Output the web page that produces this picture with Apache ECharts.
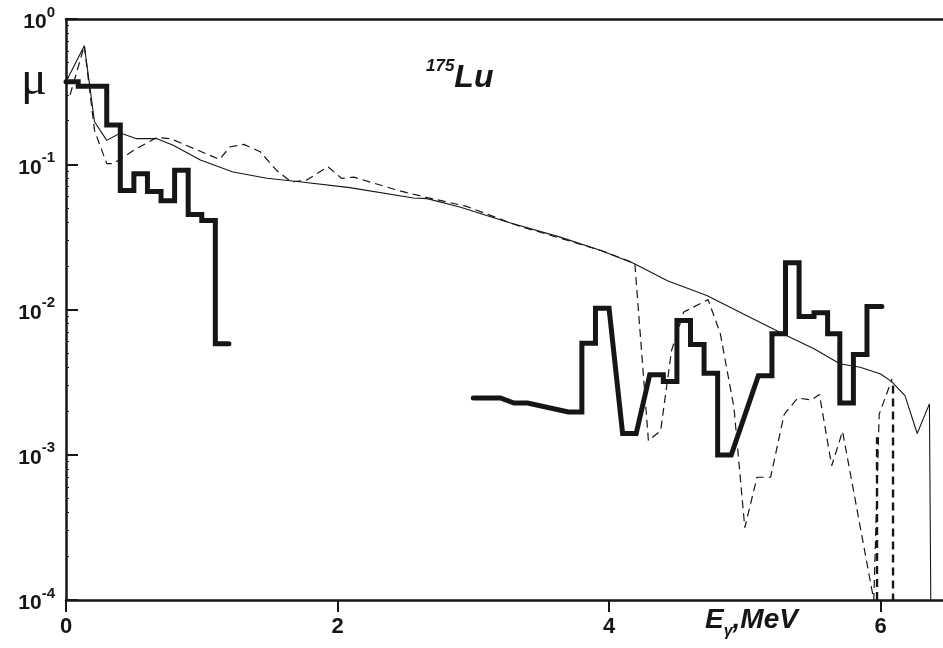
<!DOCTYPE html>
<html><head><meta charset="utf-8">
<script src="https://cdn.jsdelivr.net/npm/echarts@6/dist/echarts.min.js"></script>
<style>html,body{margin:0;padding:0;background:#fff}#c{width:943px;height:648px}</style>
</head><body><div id="c"></div>
<script>
// x tick labels and y decades
const xTickValues = [0, 2, 4, 6];
const yDecades = [1, 0.1, 0.01, 0.001, 0.0001];

// Thick histogram (experiment), low-energy part: bin edges and values
const histEdges = [0, 0.09, 0.3, 0.4, 0.5, 0.6, 0.7, 0.8, 0.9, 1.0, 1.1, 1.2];
const histValues = [0.37, 0.345, 0.186, 0.066, 0.086, 0.065, 0.056, 0.091, 0.045, 0.041, 0.0058];

// Thick line (experiment), high-energy part
const thickX = [3.0, 3.2, 3.3, 3.4, 3.7, 3.8, 3.8, 3.9, 3.9, 4.0, 4.1, 4.2, 4.3, 4.4, 4.4, 4.5, 4.5, 4.6, 4.6, 4.7, 4.7, 4.8, 4.8, 4.9, 5.1, 5.2, 5.2, 5.3, 5.3, 5.4, 5.4, 5.51, 5.51, 5.61, 5.61, 5.7, 5.7, 5.8, 5.8, 5.9, 5.9, 6.01];
const thickY = [0.00246, 0.00246, 0.00227, 0.00227, 0.00197, 0.00197, 0.00586, 0.00586, 0.0102, 0.0102, 0.0014, 0.0014, 0.00356, 0.00356, 0.0032, 0.0032, 0.0084, 0.0084, 0.00574, 0.00574, 0.00364, 0.00364, 0.000995, 0.000995, 0.0035, 0.0035, 0.0068, 0.0068, 0.021, 0.021, 0.00895, 0.00895, 0.0095, 0.0095, 0.0068, 0.0068, 0.00227, 0.00227, 0.0049, 0.0049, 0.0105, 0.0105];

// Thin solid curve
const solidX = [0.0, 0.135, 0.21, 0.30, 0.40, 0.52, 0.67, 0.79, 0.99, 1.23, 1.48, 1.72, 2.09, 2.56, 2.66, 2.90, 3.25, 3.64, 3.94, 4.18, 4.43, 4.72, 4.99, 5.24, 5.31, 5.51, 5.70, 5.85, 6.00, 6.08, 6.18, 6.27, 6.36, 6.37];
const solidY = [0.37, 0.655, 0.196, 0.146, 0.164, 0.150, 0.150, 0.135, 0.107, 0.0885, 0.080, 0.0758, 0.069, 0.0585, 0.058, 0.0508, 0.040, 0.0315, 0.0255, 0.0208, 0.0158, 0.0125, 0.0093, 0.0071, 0.0066, 0.00536, 0.00423, 0.0040, 0.0036, 0.0032, 0.00255, 0.0014, 0.00224, 0.0001];

// Thin dashed curve
const dashX = [0.03, 0.135, 0.21, 0.30, 0.35, 0.50, 0.67, 0.77, 1.13, 1.21, 1.31, 1.43, 1.55, 1.66, 1.77, 1.93, 2.03, 2.12, 2.46, 2.66, 2.95, 3.32, 3.69, 3.94, 4.19, 4.29, 4.38, 4.46, 4.55, 4.73, 4.82, 4.92, 5.00, 5.09, 5.19, 5.29, 5.39, 5.49, 5.55, 5.64, 5.72, 5.95, 5.99, 6.085];
const dashY = [0.30, 0.655, 0.171, 0.101, 0.101, 0.125, 0.153, 0.150, 0.108, 0.132, 0.137, 0.122, 0.091, 0.0755, 0.0776, 0.096, 0.080, 0.0815, 0.0655, 0.059, 0.0513, 0.038, 0.030, 0.0255, 0.0208, 0.00125, 0.00146, 0.0052, 0.0096, 0.0117, 0.0068, 0.00212, 0.000315, 0.0007, 0.0007, 0.0019, 0.00246, 0.00238, 0.0026, 0.00084, 0.00145, 0.0001, 0.0019, 0.00333];

// Heavier dashed vertical drops
const dropA_X = [5.974, 5.974];
const dropA_Y = [0.0001, 0.00132];
const dropB_X = [6.092, 6.092];
const dropB_Y = [0.003, 0.0001];

const zip = (xs, ys) => xs.map((x, i) => [x, ys[i]]);
function histPoints(edges, vals) {
  const pts = [];
  vals.forEach((v, i) => { pts.push([edges[i], v]); pts.push([edges[i + 1], v]); });
  return pts;
}

const INK = '#161616';
const chart = echarts.init(document.getElementById('c'), null, { renderer: 'canvas' });
const FONT = '"Liberation Sans", Arial, sans-serif';

chart.setOption({
  animation: false,
  backgroundColor: '#fff',
  grid: { left: 66, top: 19, right: 0, bottom: 48, containLabel: false },
  xAxis: [{
    type: 'value', min: 0, max: 6.46, interval: 2,
    axisLine: { show: true, onZero: false, lineStyle: { color: INK, width: 2.5 } },
    axisTick: { show: true, length: 12, lineStyle: { color: INK, width: 2 } },
    axisLabel: {
      margin: 16, color: INK, fontSize: 22, fontWeight: 'bold', fontFamily: FONT,
      showMaxLabel: false,
      formatter: v => (xTickValues.indexOf(v) >= 0 ? String(v) : '')
    },
    splitLine: { show: false }
  }, {
    type: 'value', position: 'top', min: 0, max: 6.46,
    axisLine: { show: true, onZero: false, lineStyle: { color: INK, width: 2.5 } },
    axisTick: { show: false }, axisLabel: { show: false }, splitLine: { show: false }
  }],
  yAxis: {
    type: 'log', logBase: 10, min: 0.0001, max: 1,
    axisLine: { show: true, onZero: false, lineStyle: { color: INK, width: 2.5 } },
    axisTick: { show: true, inside: true, length: 12, lineStyle: { color: INK, width: 2 } },
    minorTick: { show: true, splitNumber: 9, length: 3, lineStyle: { color: INK, width: 1 } },
    splitLine: { show: false },
    axisLabel: {
      margin: 11, color: INK, fontFamily: FONT,
      formatter: v => {
        const e = Math.round(Math.log10(v));
        return '{b|10}{s|' + e + '}';
      },
      rich: {
        b: { fontSize: 21, fontWeight: 'bold', fontFamily: FONT, color: INK, verticalAlign: 'bottom', lineHeight: 28 },
        s: { fontSize: 15, fontWeight: 'bold', fontFamily: FONT, color: INK, verticalAlign: 'top', lineHeight: 28 }
      }
    }
  },
  series: [
    {
      type: 'line', data: histPoints(histEdges, histValues), symbol: 'none', silent: true,
      lineStyle: { color: INK, width: 5, join: 'miter', cap: 'round' }, z: 5
    },
    {
      type: 'line', data: zip(thickX, thickY), symbol: 'none', silent: true,
      lineStyle: { color: INK, width: 5, join: 'miter', cap: 'round' }, z: 5
    },
    {
      type: 'line', data: zip(solidX, solidY), symbol: 'none', silent: true,
      lineStyle: { color: INK, width: 1.1 }, z: 3
    },
    {
      type: 'line', data: zip(dashX, dashY), symbol: 'none', silent: true,
      lineStyle: { color: INK, width: 1.2, type: [8, 5] }, z: 3
    },
    {
      type: 'line', data: zip(dropA_X, dropA_Y), symbol: 'none', silent: true,
      lineStyle: { color: INK, width: 2.4, type: [8, 5] }, z: 3
    },
    {
      type: 'line', data: zip(dropB_X, dropB_Y), symbol: 'none', silent: true,
      lineStyle: { color: INK, width: 2.4, type: [8, 5] }, z: 3
    }
  ],
  graphic: [
    { type: 'text', left: 21, top: 57, silent: true,
      style: { text: 'μ', font: '48px "Liberation Serif", serif', fill: INK } },
    { type: 'text', left: 426, top: 58, silent: true,
      style: {
        text: '{s|175}{b|Lu}',
        rich: {
          s: { fontSize: 17, fontWeight: 'bold', fontStyle: 'italic', fontFamily: FONT, fill: INK, verticalAlign: 'top', lineHeight: 36 },
          b: { fontSize: 32, fontWeight: 'bold', fontStyle: 'italic', fontFamily: FONT, fill: INK, verticalAlign: 'bottom', lineHeight: 36 }
        }
      } },
    { type: 'text', left: 705, top: 606, silent: true,
      style: {
        text: '{b|E}{g|γ}{b|,MeV}',
        rich: {
          b: { fontSize: 28, fontWeight: 'bold', fontStyle: 'italic', fontFamily: FONT, fill: INK, verticalAlign: 'top', lineHeight: 34 },
          g: { fontSize: 16, fontWeight: 'bold', fontStyle: 'italic', fontFamily: FONT, fill: INK, verticalAlign: 'bottom', lineHeight: 34 }
        }
      } }
  ]
});
</script>
</body></html>
